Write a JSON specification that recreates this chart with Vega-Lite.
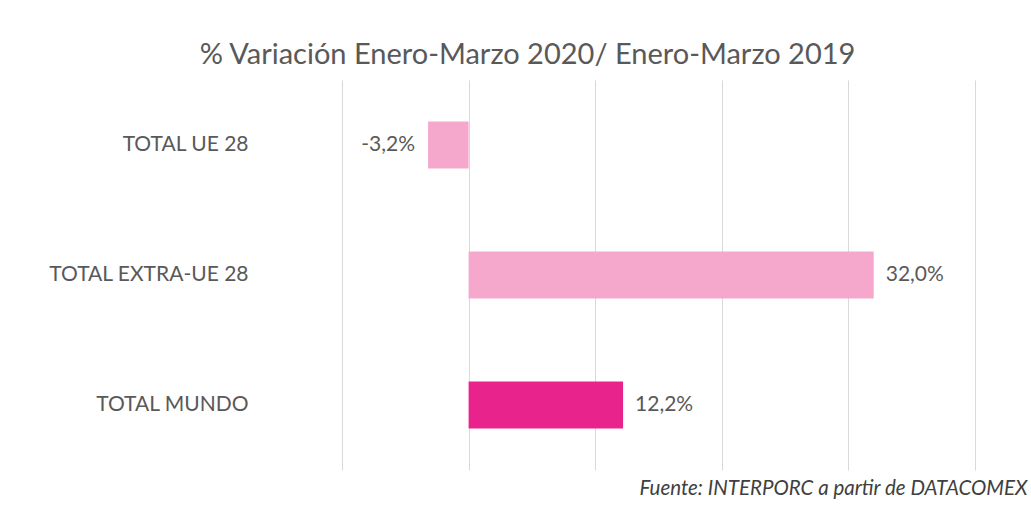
{
  "$schema": "https://vega.github.io/schema/vega-lite/v6.json",
  "width": 633,
  "height": 390,
  "autosize": {"type": "none"},
  "padding": {"left": 342, "top": 80, "right": 56, "bottom": 46},
  "background": "white",
  "config": {
    "view": {"stroke": null},
    "font": "Lato",
    "locale": {"number": {"decimal": ",", "thousands": ".", "grouping": [3], "currency": ["", "€"], "minus": "-"}}
  },
  "title": {
    "text": "% Variación Enero-Marzo 2020/ Enero-Marzo 2019",
    "fontSize": 29,
    "fontWeight": "normal",
    "color": "#595959",
    "anchor": "middle",
    "frame": "group",
    "dx": -131,
    "dy": 29,
    "baseline": "alphabetic",
    "offset": 16
  },
  "data": {
    "values": [
      {"cat": "TOTAL UE 28", "value": -0.032},
      {"cat": "TOTAL EXTRA-UE 28", "value": 0.32},
      {"cat": "TOTAL MUNDO", "value": 0.122}
    ]
  },
  "encoding": {
    "y": {
      "field": "cat",
      "type": "nominal",
      "sort": null,
      "scale": {"paddingInner": 0.64, "paddingOuter": 0.32},
      "axis": {
        "title": null,
        "ticks": false,
        "domain": false,
        "labelPadding": 94,
        "labelFontSize": 21,
        "labelColor": "#595959",
        "labelLimit": 300
      }
    },
    "x": {
      "field": "value",
      "type": "quantitative",
      "scale": {"domain": [-0.1, 0.4], "nice": false, "zero": false},
      "axis": {
        "values": [-0.1, 0, 0.1, 0.2, 0.3, 0.4],
        "labels": false,
        "ticks": false,
        "domain": false,
        "grid": true,
        "gridColor": "#d9d9d9",
        "gridWidth": 1,
        "title": "Fuente: INTERPORC  a partir de DATACOMEX",
        "titleFontStyle": "italic",
        "titleFontWeight": "normal",
        "titleFontSize": 20.5,
        "titleColor": "#404040",
        "titleX": 685,
        "titleY": 24,
        "titleAlign": "right",
        "titleBaseline": "alphabetic",
        "titleAnchor": null
      }
    }
  },
  "layer": [
    {
      "mark": {"type": "bar"},
      "encoding": {
        "color": {
          "field": "cat",
          "type": "nominal",
          "scale": {"domain": ["TOTAL UE 28", "TOTAL EXTRA-UE 28", "TOTAL MUNDO"], "range": ["#F5A8CC", "#F5A8CC", "#E8238B"]},
          "legend": null
        }
      }
    },
    {
      "transform": [{"filter": "datum.value > 0"}],
      "mark": {"type": "text", "align": "left", "baseline": "middle", "dx": 12, "fontSize": 21, "color": "#595959"},
      "encoding": {"text": {"field": "value", "type": "quantitative", "format": ".1%"}}
    },
    {
      "transform": [{"filter": "datum.value < 0"}],
      "mark": {"type": "text", "align": "right", "baseline": "middle", "dx": -13, "fontSize": 21, "color": "#595959"},
      "encoding": {"text": {"field": "value", "type": "quantitative", "format": ".1%"}}
    }
  ]
}
